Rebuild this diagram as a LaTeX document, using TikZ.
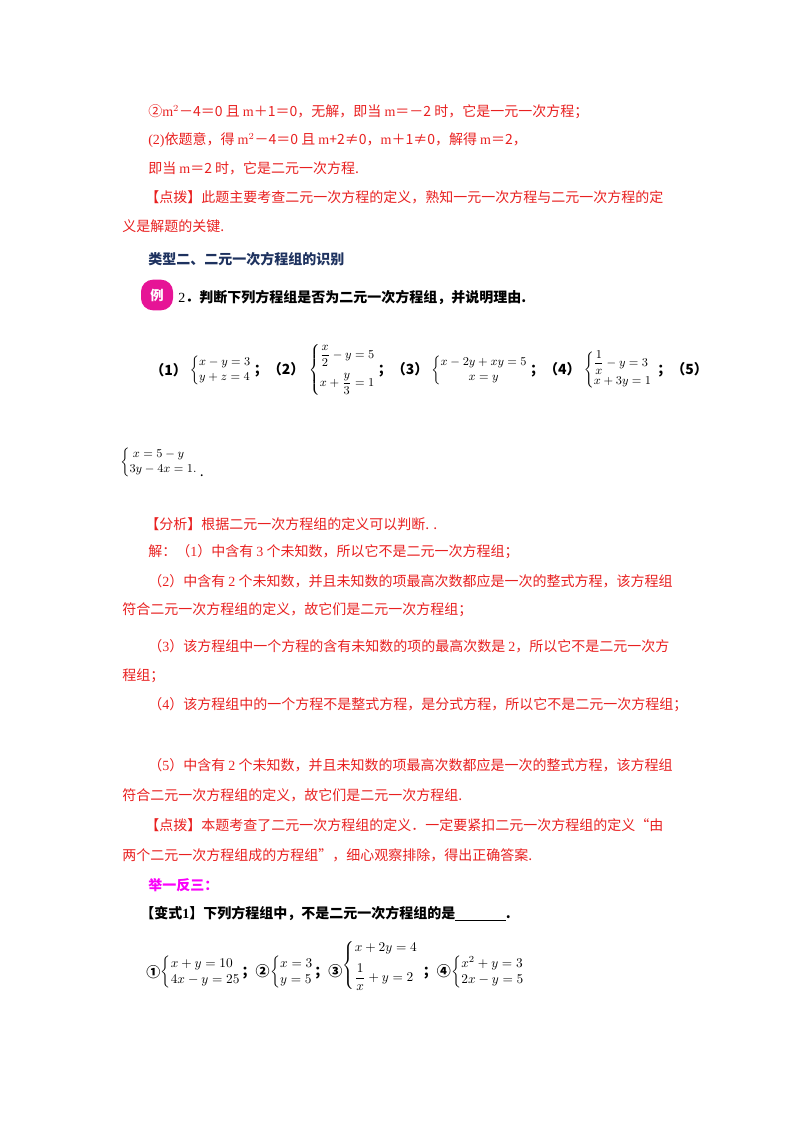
\documentclass[tikz,border=0pt]{standalone}
\usepackage{amsmath}
\usepackage{fontspec}
\setmainfont{Noto Sans CJK SC}
\newfontfamily\lat{Liberation Serif}
\definecolor{rd}{RGB}{232,32,32}
\definecolor{hd}{RGB}{30,50,95}
\definecolor{mg}{RGB}{250,0,250}
\definecolor{ic}{RGB}{230,20,150}
\begin{document}
\begin{tikzpicture}[x=0.75pt,y=-0.75pt,
 t/.style={anchor=west,inner sep=0pt,font=\fontsize{10.5pt}{12pt}\selectfont},
 r/.style={t,text=rd},
 b/.style={t,font=\fontsize{10.5pt}{12pt}\selectfont\bfseries},
 eq/.style={anchor=west,inner sep=0pt,font=\fontsize{9pt}{11pt}\selectfont}]
\useasboundingbox (0,0) rectangle (800,1132);
\node[r] (l1) at (148,112) {②{\lat m}$^2$－4＝0 且 {\lat m}＋1＝0，无解，即当 {\lat m}＝－2 时，它是一元一次方程；};
\node[r] (l2) at (148,140) {{\lat (2)}依题意，得 {\lat m}$^2$－4＝0 且 {\lat m}+2≠0，{\lat m}＋1≠0，解得 {\lat m}＝2，};
\node[r] (l3) at (148,168) {即当 {\lat m}＝2 时，它是二元一次方程.};
\node[r] (l4) at (145,197) {【点拨】此题主要考查二元一次方程的定义，熟知一元一次方程与二元一次方程的定};
\node[r] (l5) at (122,226) {义是解题的关键.};
\node[b,text=hd] (h) at (148,259) {类型二、二元一次方程组的识别};
\node[fill=ic,rounded corners=9pt,minimum width=24pt,minimum height=23pt,inner sep=0pt,text=white,font=\bfseries\fontsize{10pt}{10pt}\selectfont] (ic) at (157,295) {例};
\node[b] (q) at (178,297) {{\lat\mdseries 2}．判断下列方程组是否为二元一次方程组，并说明理由.};
\node[b] (e1) at (150,370) {（1）};
\node[eq] (s1) at ([xshift=2pt]e1.east) {$\left\{\begin{array}{@{}l@{}}x-y=3\\ y+z=4\end{array}\right.$};
\node[b] (e1b) at ([xshift=1pt]s1.east) {；（2）};
\node[eq] (s2) at ([xshift=3pt]e1b.east) {$\left\{\begin{array}{@{}l@{}}\dfrac{x}{2}-y=5\\[8pt] x+\dfrac{y}{3}=1\end{array}\right.$};
\node[b] (e2b) at ([xshift=1pt]s2.east) {；（3）};
\node[eq] (s3) at ([xshift=2pt]e2b.east) {$\left\{\begin{array}{@{}c@{}}x-2y+xy=5\\ x=y\end{array}\right.$};
\node[b] (e3b) at ([xshift=1pt]s3.east) {；（4）};
\node[eq] (s4) at ([xshift=2pt]e3b.east) {$\left\{\begin{array}{@{}l@{}}\dfrac{1}{x}-y=3\\[2pt] x+3y=1\end{array}\right.$};
\node[b] (e4b) at ([xshift=3pt]s4.east) {；（5）};
\node[eq] (s5) at (120,462) {$\left\{\begin{array}{@{}l@{}}\;x=5-y\\ 3y-4x=1.\end{array}\right.$};
\node[t,anchor=south west] (dot) at ([xshift=1pt]s5.south east) {.};
\node[r] (a1) at (145,524) {【分析】根据二元一次方程组的定义可以判断. .};
\node[r] (a2) at (148,552) {解：（{\lat 1}）中含有 {\lat 3} 个未知数，所以它不是二元一次方程组；};
\node[r] (a3) at (148,581) {（{\lat 2}）中含有 {\lat 2} 个未知数，并且未知数的项最高次数都应是一次的整式方程，该方程组};
\node[r] (a4) at (122,610) {符合二元一次方程组的定义，故它们是二元一次方程组；};
\node[r] (a5) at (148,646) {（{\lat 3}）该方程组中一个方程的含有未知数的项的最高次数是 {\lat 2}，所以它不是二元一次方};
\node[r] (a6) at (122,676) {程组；};
\node[r] (a7) at (148,705) {（{\lat 4}）该方程组中的一个方程不是整式方程，是分式方程，所以它不是二元一次方程组；};
\node[r] (a8) at (148,765) {（{\lat 5}）中含有 {\lat 2} 个未知数，并且未知数的项最高次数都应是一次的整式方程，该方程组};
\node[r] (a9) at (122,795) {符合二元一次方程组的定义，故它们是二元一次方程组.};
\node[r] (a10) at (145,825) {【点拨】本题考查了二元一次方程组的定义．一定要紧扣二元一次方程组的定义“由};
\node[r] (a11) at (122,855) {两个二元一次方程组成的方程组”，细心观察排除，得出正确答案.};
\node[b,text=mg] (j) at (148,885) {举一反三：};
\node[b] (v) at (140,914) {【变式{\lat 1}】下列方程组中，不是二元一次方程组的是\underline{\hspace{38pt}}.};
\node[b] (c1) at (146,972) {①};
\node[eq,font=\fontsize{10pt}{12pt}\selectfont] (t1) at (c1.east) {$\left\{\begin{array}{@{}l@{}}x+y=10\\ 4x-y=25\end{array}\right.$};
\node[b] (c2) at (t1.east) {；②};
\node[eq,font=\fontsize{10pt}{12pt}\selectfont] (t2) at (c2.east) {$\left\{\begin{array}{@{}l@{}}x=3\\ y=5\end{array}\right.$};
\node[b] (c3) at (t2.east) {；③};
\node[eq,font=\fontsize{10pt}{12pt}\selectfont] (t3) at ([yshift=5pt]c3.east) {$\left\{\begin{array}{@{}l@{}}x+2y=4\\[6pt] \dfrac{1}{x}+y=2\end{array}\right.$};
\node[b] (c4) at (t3.east|-c3.east) {\;；④};
\node[eq,font=\fontsize{10pt}{12pt}\selectfont] (t4) at (c4.east) {$\left\{\begin{array}{@{}l@{}}x^2+y=3\\ 2x-y=5\end{array}\right.$};
\end{tikzpicture}
\end{document}
